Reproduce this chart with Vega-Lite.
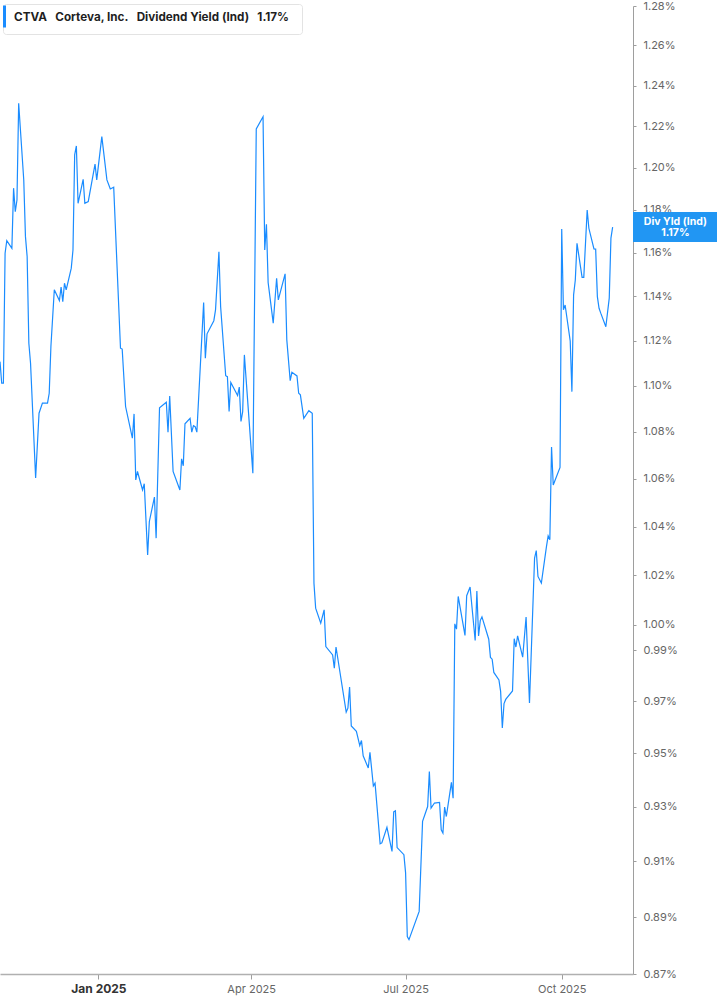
{
  "$schema": "https://vega.github.io/schema/vega-lite/v6.json",
  "width": 633,
  "height": 968,
  "autosize": {"type": "none"},
  "padding": {"left": 0, "top": 6, "right": 84, "bottom": 31},
  "background": "#ffffff",
  "config": {"view": {"stroke": null}},
  "layer": [
    {
      "data": {
        "values": [
          {"date": "2024-11-04", "yield": 1.1107}, {"date": "2024-11-05", "yield": 1.1012}, {"date": "2024-11-06", "yield": 1.1012},
          {"date": "2024-11-07", "yield": 1.1598}, {"date": "2024-11-08", "yield": 1.1656}, {"date": "2024-11-11", "yield": 1.1621},
          {"date": "2024-11-12", "yield": 1.1903}, {"date": "2024-11-13", "yield": 1.1792}, {"date": "2024-11-14", "yield": 1.1847},
          {"date": "2024-11-15", "yield": 1.2313}, {"date": "2024-11-18", "yield": 1.1942}, {"date": "2024-11-19", "yield": 1.1675},
          {"date": "2024-11-20", "yield": 1.1582}, {"date": "2024-11-21", "yield": 1.1189}, {"date": "2024-11-22", "yield": 1.1100},
          {"date": "2024-11-25", "yield": 1.0603}, {"date": "2024-11-27", "yield": 1.0881}, {"date": "2024-11-29", "yield": 1.0925},
          {"date": "2024-12-02", "yield": 1.0925}, {"date": "2024-12-03", "yield": 1.0968}, {"date": "2024-12-04", "yield": 1.1174},
          {"date": "2024-12-06", "yield": 1.1430}, {"date": "2024-12-09", "yield": 1.1381}, {"date": "2024-12-10", "yield": 1.1442},
          {"date": "2024-12-11", "yield": 1.1376}, {"date": "2024-12-12", "yield": 1.1460}, {"date": "2024-12-13", "yield": 1.1430},
          {"date": "2024-12-16", "yield": 1.1529}, {"date": "2024-12-17", "yield": 1.1613}, {"date": "2024-12-18", "yield": 1.2062},
          {"date": "2024-12-19", "yield": 1.2105}, {"date": "2024-12-20", "yield": 1.1831}, {"date": "2024-12-23", "yield": 1.1945},
          {"date": "2024-12-24", "yield": 1.1831}, {"date": "2024-12-26", "yield": 1.1839}, {"date": "2024-12-30", "yield": 1.2018},
          {"date": "2024-12-31", "yield": 1.1942}, {"date": "2025-01-03", "yield": 1.2150}, {"date": "2025-01-06", "yield": 1.1942},
          {"date": "2025-01-08", "yield": 1.1899}, {"date": "2025-01-10", "yield": 1.1907}, {"date": "2025-01-14", "yield": 1.1167},
          {"date": "2025-01-15", "yield": 1.1163}, {"date": "2025-01-17", "yield": 1.0910}, {"date": "2025-01-21", "yield": 1.0773},
          {"date": "2025-01-22", "yield": 1.0878}, {"date": "2025-01-23", "yield": 1.0595}, {"date": "2025-01-24", "yield": 1.0631},
          {"date": "2025-01-27", "yield": 1.0553}, {"date": "2025-01-28", "yield": 1.0579}, {"date": "2025-01-30", "yield": 1.0283},
          {"date": "2025-01-31", "yield": 1.0421}, {"date": "2025-02-03", "yield": 1.0523}, {"date": "2025-02-04", "yield": 1.0352},
          {"date": "2025-02-06", "yield": 1.0905}, {"date": "2025-02-10", "yield": 1.0929}, {"date": "2025-02-11", "yield": 1.0799},
          {"date": "2025-02-12", "yield": 1.0956}, {"date": "2025-02-14", "yield": 1.0631}, {"date": "2025-02-18", "yield": 1.0553},
          {"date": "2025-02-19", "yield": 1.0685}, {"date": "2025-02-20", "yield": 1.0655}, {"date": "2025-02-21", "yield": 1.0835},
          {"date": "2025-02-24", "yield": 1.0859}, {"date": "2025-02-25", "yield": 1.0799}, {"date": "2025-02-26", "yield": 1.0827},
          {"date": "2025-02-27", "yield": 1.0823}, {"date": "2025-02-28", "yield": 1.0799}, {"date": "2025-03-04", "yield": 1.1372},
          {"date": "2025-03-05", "yield": 1.1122}, {"date": "2025-03-06", "yield": 1.1231}, {"date": "2025-03-10", "yield": 1.1290},
          {"date": "2025-03-11", "yield": 1.1339}, {"date": "2025-03-13", "yield": 1.1605}, {"date": "2025-03-14", "yield": 1.1354},
          {"date": "2025-03-17", "yield": 1.1045}, {"date": "2025-03-18", "yield": 1.1041}, {"date": "2025-03-19", "yield": 1.0888},
          {"date": "2025-03-20", "yield": 1.1015}, {"date": "2025-03-24", "yield": 1.0958}, {"date": "2025-03-25", "yield": 1.0995},
          {"date": "2025-03-26", "yield": 1.0845}, {"date": "2025-03-27", "yield": 1.0888}, {"date": "2025-03-28", "yield": 1.1137},
          {"date": "2025-04-02", "yield": 1.0624}, {"date": "2025-04-04", "yield": 1.2187}, {"date": "2025-04-08", "yield": 1.2247},
          {"date": "2025-04-09", "yield": 1.1613}, {"date": "2025-04-10", "yield": 1.1733}, {"date": "2025-04-11", "yield": 1.1463},
          {"date": "2025-04-14", "yield": 1.1279}, {"date": "2025-04-16", "yield": 1.1483}, {"date": "2025-04-17", "yield": 1.1384},
          {"date": "2025-04-21", "yield": 1.1503}, {"date": "2025-04-22", "yield": 1.1204}, {"date": "2025-04-24", "yield": 1.1023},
          {"date": "2025-04-25", "yield": 1.1060}, {"date": "2025-04-28", "yield": 1.1044}, {"date": "2025-04-29", "yield": 1.0968},
          {"date": "2025-04-30", "yield": 1.0961}, {"date": "2025-05-02", "yield": 1.0859}, {"date": "2025-05-05", "yield": 1.0892},
          {"date": "2025-05-07", "yield": 1.0881}, {"date": "2025-05-08", "yield": 1.0168}, {"date": "2025-05-09", "yield": 1.0067},
          {"date": "2025-05-12", "yield": 1.0007}, {"date": "2025-05-14", "yield": 1.0060}, {"date": "2025-05-15", "yield": 0.9914},
          {"date": "2025-05-19", "yield": 0.9881}, {"date": "2025-05-20", "yield": 0.9829}, {"date": "2025-05-21", "yield": 0.9912},
          {"date": "2025-05-27", "yield": 0.9658}, {"date": "2025-05-28", "yield": 0.9673}, {"date": "2025-05-29", "yield": 0.9755},
          {"date": "2025-05-30", "yield": 0.9605}, {"date": "2025-06-02", "yield": 0.9584}, {"date": "2025-06-04", "yield": 0.9530},
          {"date": "2025-06-05", "yield": 0.9549}, {"date": "2025-06-06", "yield": 0.9491}, {"date": "2025-06-09", "yield": 0.9445},
          {"date": "2025-06-10", "yield": 0.9504}, {"date": "2025-06-12", "yield": 0.9378}, {"date": "2025-06-13", "yield": 0.9388},
          {"date": "2025-06-16", "yield": 0.9164}, {"date": "2025-06-17", "yield": 0.9167}, {"date": "2025-06-20", "yield": 0.9224},
          {"date": "2025-06-23", "yield": 0.9136}, {"date": "2025-06-24", "yield": 0.9281}, {"date": "2025-06-25", "yield": 0.9285},
          {"date": "2025-06-26", "yield": 0.9150}, {"date": "2025-06-30", "yield": 0.9124}, {"date": "2025-07-01", "yield": 0.9058},
          {"date": "2025-07-02", "yield": 0.8831}, {"date": "2025-07-03", "yield": 0.8820}, {"date": "2025-07-09", "yield": 0.8920},
          {"date": "2025-07-11", "yield": 0.9246}, {"date": "2025-07-14", "yield": 0.9301}, {"date": "2025-07-15", "yield": 0.9432},
          {"date": "2025-07-16", "yield": 0.9295}, {"date": "2025-07-18", "yield": 0.9314}, {"date": "2025-07-21", "yield": 0.9316},
          {"date": "2025-07-22", "yield": 0.9215}, {"date": "2025-07-23", "yield": 0.9203}, {"date": "2025-07-24", "yield": 0.9299},
          {"date": "2025-07-25", "yield": 0.9264}, {"date": "2025-07-28", "yield": 0.9391}, {"date": "2025-07-29", "yield": 0.9332},
          {"date": "2025-07-30", "yield": 1.0004}, {"date": "2025-07-31", "yield": 0.9983}, {"date": "2025-08-01", "yield": 1.0114},
          {"date": "2025-08-05", "yield": 0.9958}, {"date": "2025-08-06", "yield": 1.0117}, {"date": "2025-08-08", "yield": 1.0152},
          {"date": "2025-08-11", "yield": 0.9938}, {"date": "2025-08-12", "yield": 1.0136}, {"date": "2025-08-13", "yield": 0.9956},
          {"date": "2025-08-14", "yield": 1.0017}, {"date": "2025-08-15", "yield": 1.0032}, {"date": "2025-08-19", "yield": 0.9943},
          {"date": "2025-08-20", "yield": 0.9871}, {"date": "2025-08-21", "yield": 0.9864}, {"date": "2025-08-22", "yield": 0.9812},
          {"date": "2025-08-25", "yield": 0.9783}, {"date": "2025-08-26", "yield": 0.9738}, {"date": "2025-08-27", "yield": 0.9597},
          {"date": "2025-08-28", "yield": 0.9691}, {"date": "2025-08-29", "yield": 0.9707}, {"date": "2025-09-02", "yield": 0.9740},
          {"date": "2025-09-03", "yield": 0.9945}, {"date": "2025-09-04", "yield": 0.9912}, {"date": "2025-09-05", "yield": 0.9956},
          {"date": "2025-09-08", "yield": 0.9872}, {"date": "2025-09-10", "yield": 1.0031}, {"date": "2025-09-12", "yield": 0.9693},
          {"date": "2025-09-15", "yield": 1.0270}, {"date": "2025-09-16", "yield": 1.0301}, {"date": "2025-09-17", "yield": 1.0195},
          {"date": "2025-09-19", "yield": 1.0168}, {"date": "2025-09-22", "yield": 1.0317}, {"date": "2025-09-23", "yield": 1.0361},
          {"date": "2025-09-24", "yield": 1.0345}, {"date": "2025-09-25", "yield": 1.0735}, {"date": "2025-09-26", "yield": 1.0574},
          {"date": "2025-09-30", "yield": 1.0648}, {"date": "2025-10-01", "yield": 1.1710}, {"date": "2025-10-02", "yield": 1.1339},
          {"date": "2025-10-03", "yield": 1.1361}, {"date": "2025-10-06", "yield": 1.1199}, {"date": "2025-10-07", "yield": 1.0975},
          {"date": "2025-10-08", "yield": 1.1407}, {"date": "2025-10-09", "yield": 1.1475}, {"date": "2025-10-10", "yield": 1.1644},
          {"date": "2025-10-13", "yield": 1.1487}, {"date": "2025-10-14", "yield": 1.1487}, {"date": "2025-10-16", "yield": 1.1800},
          {"date": "2025-10-17", "yield": 1.1714}, {"date": "2025-10-20", "yield": 1.1618}, {"date": "2025-10-21", "yield": 1.1617},
          {"date": "2025-10-22", "yield": 1.1399}, {"date": "2025-10-23", "yield": 1.1346}, {"date": "2025-10-24", "yield": 1.1324},
          {"date": "2025-10-27", "yield": 1.1263}, {"date": "2025-10-29", "yield": 1.1392}, {"date": "2025-10-30", "yield": 1.1668},
          {"date": "2025-10-31", "yield": 1.1719}
        ]
      },
      "mark": {"type": "line", "strokeWidth": 1.2},
      "encoding": {
        "x": {
          "field": "date",
          "type": "temporal",
          "title": null,
          "scale": {
            "type": "utc",
            "domain": [
              {"year": 2024, "month": "nov", "date": 4, "utc": true},
              {"year": 2025, "month": "nov", "date": 12, "utc": true}
            ]
          },
          "axis": {
            "values": [
              {"year": 2025, "month": "jan", "date": 1, "utc": true},
              {"year": 2025, "month": "apr", "date": 1, "utc": true},
              {"year": 2025, "month": "jul", "date": 1, "utc": true},
              {"year": 2025, "month": "oct", "date": 1, "utc": true}
            ],
            "labelExpr": "utcFormat(datum.value, '%b %Y')",
            "grid": false,
            "domainColor": "#b0b0b0",
            "domainWidth": 1.5,
            "tickColor": "#9e9e9e",
            "tickSize": 5,
            "labelPadding": 4,
            "labelFont": "Inter",
            "labelOverlap": false,
            "labelFlush": false,
            "labelFontSize": {"condition": {"test": "utcmonth(datum.value) === 0", "value": 12}, "value": 11},
            "labelFontWeight": {"condition": {"test": "utcmonth(datum.value) === 0", "value": "bold"}, "value": "normal"},
            "labelColor": {"condition": {"test": "utcmonth(datum.value) === 0", "value": "#333333"}, "value": "#666666"}
          }
        },
        "y": {
          "field": "yield",
          "type": "quantitative",
          "title": null,
          "scale": {"type": "log", "domain": [0.87, 1.28], "nice": false},
          "axis": {
            "orient": "right",
            "values": [0.87, 0.89, 0.91, 0.93, 0.95, 0.97, 0.99, 1.0, 1.02, 1.04, 1.06, 1.08, 1.1, 1.12, 1.14, 1.16, 1.18, 1.2, 1.22, 1.24, 1.26, 1.28],
            "labelExpr": "format(datum.value, '.2f') + '%'",
            "grid": false,
            "domainColor": "#9e9e9e",
            "tickColor": "#9e9e9e",
            "tickSize": 3,
            "labelPadding": 7,
            "labelFont": "Inter",
            "labelFontSize": 11,
            "labelColor": "#666666",
            "labelOverlap": false,
            "labelBound": false,
            "labelFlush": false
          }
        },
        "color": {
          "datum": "CTVA\u00a0\u00a0\u00a0Corteva, Inc.\u00a0\u00a0\u00a0Dividend Yield (Ind)\u00a0\u00a0\u00a01.17%\u00a0\u2800",
          "type": "nominal",
          "scale": {"range": ["#1a8cff"]},
          "legend": {
            "title": null,
            "orient": "none",
            "legendX": 3,
            "legendY": -2,
            "padding": 0,
            "fillColor": "#ffffff",
            "strokeColor": "#e3e3e3",
            "cornerRadius": 3,
            "symbolType": "M-1,-1L-1,1",
            "symbolSize": 484,
            "symbolStrokeWidth": 3,
            "labelFont": "Inter",
            "labelFontSize": 11.7,
            "labelFontWeight": "bold",
            "labelColor": "#1f1f1f",
            "labelOffset": -14,
            "labelLimit": 400
          }
        }
      }
    },
    {
      "data": {"values": [{"tag": "Div Yld (Ind)\n1.17%"}]},
      "mark": {"type": "rect", "color": "#2196f3"},
      "encoding": {
        "x": {"datum": {"year": 2025, "month": "nov", "date": 12, "utc": true}, "type": "temporal"},
        "x2": {"datum": {"year": 2026, "month": "jan", "date": 1, "utc": true}},
        "y": {"datum": 1.179, "type": "quantitative"},
        "y2": {"datum": 1.165}
      }
    },
    {
      "data": {"values": [{"tag": "Div Yld (Ind)\n1.17%"}]},
      "mark": {"type": "text", "color": "#ffffff", "font": "Inter", "fontSize": 10.5, "fontWeight": "bold", "lineBreak": "\n", "lineHeight": 11, "baseline": "middle", "align": "center", "dy": -5},
      "encoding": {
        "x": {"datum": {"year": 2025, "month": "dec", "date": 7, "utc": true}, "type": "temporal"},
        "y": {"datum": 1.172, "type": "quantitative"},
        "text": {"field": "tag"}
      }
    }
  ]
}
